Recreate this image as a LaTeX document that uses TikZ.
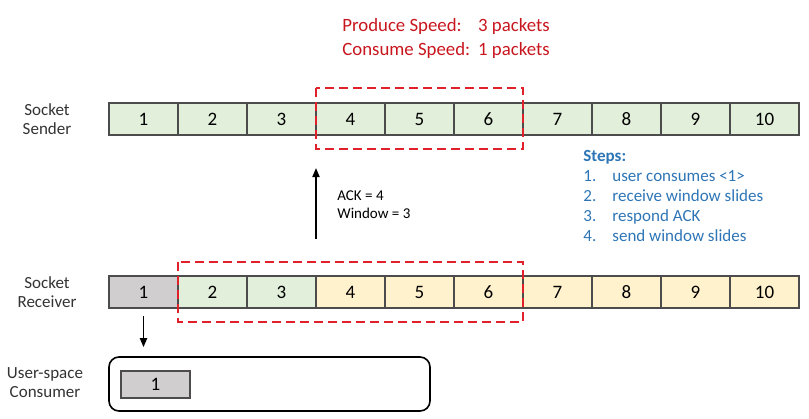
\documentclass[tikz,border=0pt]{standalone}
\usepackage{fontspec}
\setmainfont{Carlito}
\usepackage{tikz}
\usetikzlibrary{positioning,arrows.meta}
\definecolor{cellgreen}{HTML}{E2EFDA}
\definecolor{cellyellow}{HTML}{FFF2CC}
\definecolor{cellgray}{HTML}{D0CECE}
\definecolor{winred}{HTML}{E0202A}
\definecolor{speedred}{HTML}{C8161E}
\definecolor{stepblue}{HTML}{2E75B6}

\begin{document}
\begin{tikzpicture}[
    x=0.5pt, y=-0.5pt,
    cell/.style={draw=black!70, line width=0.6pt, minimum width=34.5pt,
                 minimum height=16pt, inner sep=0pt, outer sep=0pt,
                 font=\fontsize{9.5}{10}\selectfont},
    side/.style={align=center, text=black!80, font=\fontsize{8.5}{9.5}\selectfont},
    win/.style={draw=winred, line width=1.2pt, dash pattern=on 4.5pt off 2.5pt},
    arr/.style={-{Triangle[length=4.5pt,width=3.5pt]}, line width=0.9pt},
    lbl/.style={font=\fontsize{7.5}{9}\selectfont, align=left},
  ]
  \useasboundingbox (0,0) rectangle (809,418);

  % Speeds
  \node[anchor=north west, inner sep=0pt, text=speedred, font=\fontsize{9.4}{12}\selectfont]
    (speed) at (342,14) {\begin{tabular}{@{}l@{\hspace{4pt}}l@{}}
      Produce Speed: & 3 packets\\
      Consume Speed: & 1 packets
    \end{tabular}};

  % Socket Sender
  \node[side] (slbl) at (47,119) {Socket\\Sender};
  \foreach \i in {1,...,10}
    \node[cell, fill=cellgreen] (s\i) at ({74.5+69*\i},119) {\i};
  \draw[win] ([yshift=7.5pt]s4.north west) rectangle ([yshift=-7pt]s6.south east);

  % Socket Receiver
  \node[side] (rlbl) at (47,292) {Socket\\Receiver};
  \foreach \i/\c in {1/cellgray,2/cellgreen,3/cellgreen,4/cellyellow,5/cellyellow,
                     6/cellyellow,7/cellyellow,8/cellyellow,9/cellyellow,10/cellyellow}
    \node[cell, fill=\c] (r\i) at ({74.5+69*\i},292) {\i};
  \draw[win] ([yshift=7pt]r2.north west) rectangle ([yshift=-7pt]r6.south east);

  % ACK
  \draw[arr, shorten <=18.5pt, shorten >=16.5pt] (r4.north west) -- (s4.south west);
  \node[lbl, anchor=west, inner sep=0pt] (ack) at (337,205) {ACK = 4\\Window = 3};

  % Steps
  \node[anchor=north west, inner sep=0pt, align=left, text=stepblue,
        font=\fontsize{8.5}{10}\selectfont] (steps) at (583,150)
    {\textbf{Steps:}\\
     \makebox[14.5pt][l]{1.}user consumes <1>\\
     \makebox[14.5pt][l]{2.}receive window slides\\
     \makebox[14.5pt][l]{3.}respond ACK\\
     \makebox[14.5pt][l]{4.}send window slides};

  % User-space Consumer
  \node[side] (ulbl) at (45,383) {User-space\\Consumer};
  \node[draw, rounded corners=5pt, line width=0.8pt, minimum width=160.5pt,
        minimum height=27pt] (user) at (269.5,384) {};
  \node[cell, fill=cellgray, minimum height=13.5pt] (u1) at (155.5,384.5) {1};
  \draw[arr, shorten <=4pt, shorten >=4.5pt] (r1.south) -- (r1.south |- user.north);
\end{tikzpicture}
\end{document}
